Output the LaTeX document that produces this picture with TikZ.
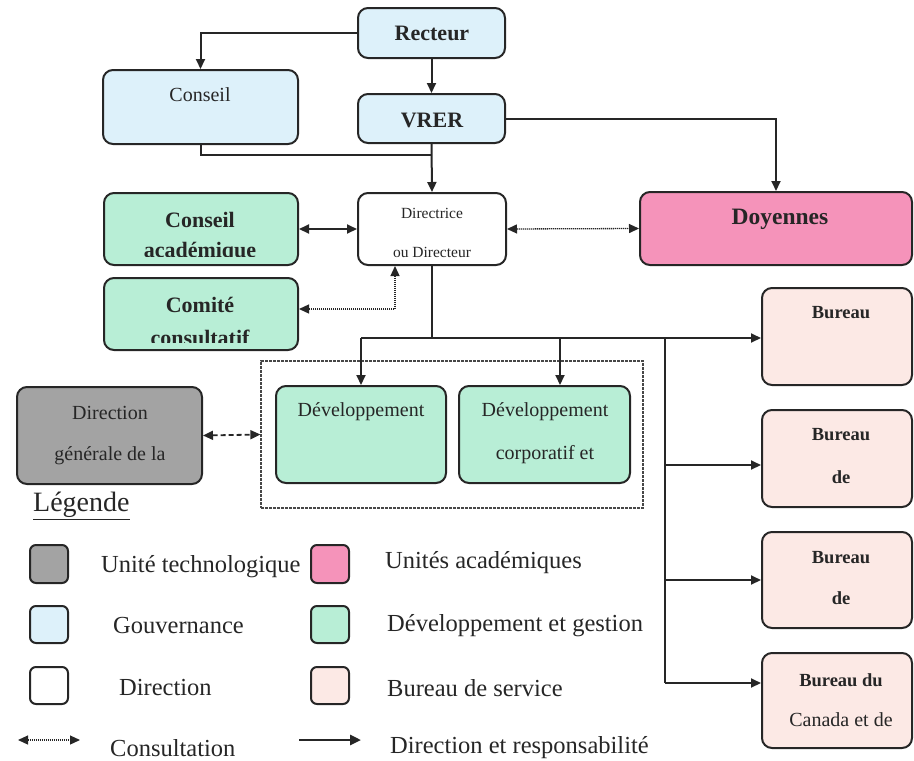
\documentclass[tikz,border=0pt]{standalone}
\usepackage{fontspec}
\setmainfont{Liberation Serif}
\usetikzlibrary{arrows.meta,fit}
\definecolor{gov}{HTML}{DDF1FA}
\definecolor{devg}{HTML}{B8EED6}
\definecolor{acad}{HTML}{F593BA}
\definecolor{tech}{HTML}{A3A3A3}
\definecolor{bur}{HTML}{FCE9E5}
\definecolor{ln}{HTML}{262626}
\tikzset{
  >={Triangle[length=10pt,width=9pt]},
  box/.style={draw=ln, line width=2pt, rounded corners=10pt, inner sep=0pt},
  lbox/.style={draw=ln, line width=2pt, rounded corners=6pt, inner sep=0pt},
  frame/.style={draw=ln!85, line width=1.3pt, dash pattern=on 3pt off 1pt, inner sep=0pt},
  conn/.style={draw=ln, line width=2pt},
  arr/.style={conn, ->},
  arrb/.style={conn, <->},
  consult/.style={draw=ln, line width=1.3pt, dash pattern=on 1.2pt off 0.8pt, <->},
  dashb/.style={draw=ln, line width=1.8pt, dash pattern=on 5pt off 3pt, <->},
  tb/.style={text=ln, inner sep=0pt, font=\fontsize{22}{24}\selectfont\bfseries},
  tr/.style={text=ln, inner sep=0pt, font=\fontsize{20}{22}\selectfont},
  ts/.style={text=ln, inner sep=0pt, font=\fontsize{15.5}{17}\selectfont},
  tbu/.style={text=ln, inner sep=0pt, font=\fontsize{18.5}{20}\selectfont\bfseries},
  tl/.style={text=ln, inner sep=0pt, anchor=west, font=\fontsize{24.5}{26}\selectfont},
}
\begin{document}
\begin{tikzpicture}[x=1pt,y=-1pt]
\useasboundingbox (0,0) rectangle (914,761);
% boxes
\node[box, fill=gov, fit={(358,8)(505,58)}] (rect) {};
\node[box, fill=gov, fit={(103,70)(298,144)}] (cons) {};
\node[box, fill=gov, fit={(358,94)(505,143)}] (vrer) {};
\node[box, fill=white, fit={(358,193)(506,265)}] (dir) {};
\node[box, fill=acad, fit={(640,192)(912,265)}] (doy) {};
\node[box, fill=devg, fit={(104,193)(298,265)}] (ca) {};
\node[box, fill=devg, fit={(104,278)(298,350)}] (cc) {};
\node[box, fill=tech, fit={(17,387)(202,484)}] (dg) {};
\node[frame, fit={(261,361)(643,508)}] (grp) {};
\node[box, fill=devg, fit={(276,386)(446,483)}] (dev1) {};
\node[box, fill=devg, fit={(459,386)(630,483)}] (dev2) {};
\node[box, fill=bur, fit={(762,288)(912,385)}] (b1) {};
\node[box, fill=bur, fit={(762,410)(912,507)}] (b2) {};
\node[box, fill=bur, fit={(762,532)(912,628)}] (b3) {};
\node[box, fill=bur, fit={(762,653)(912,748)}] (b4) {};
% texts
\node[tb] (tRect) at (432,33) {Recteur};
\node[tr] (tCons) at (200,95) {Conseil};
\node[tb] (tVrer) at (432,120) {VRER};
\node[ts] (tDir1) at (432,213) {Directrice};
\node[ts] (tDir2) at (432,252) {ou Directeur};
\node[tb, font=\fontsize{23.5}{25}\selectfont\bfseries] (tDoy) at (780,219) {Doyennes};
\node[tb] (tCa1) at (200,220) {Conseil};
\begin{scope}
\clip (104,240) rectangle (298,256);
\node[tb] (tCa2) at (200,252) {académique};
\end{scope}
\node[tb] (tCc1) at (200,305) {Comité};
\begin{scope}
\clip (104,322) rectangle (298,342);
\node[tb] (tCc2) at (200,338) {consultatif};
\end{scope}
\node[tr] (tDg1) at (110,413) {Direction};
\node[tr] (tDg2) at (110,456) {générale de la};
\node[tr] (tDev1) at (361,412) {Développement};
\node[tr] (tDev2a) at (545,412) {Développement};
\node[tr] (tDev2b) at (545,455) {corporatif et};
\node[tbu] (tB1) at (841,313) {Bureau};
\node[tbu] (tB2a) at (841,435) {Bureau};
\node[tbu] (tB2b) at (841,477) {de};
\node[tbu] (tB3a) at (841,558) {Bureau};
\node[tbu] (tB3b) at (841,598) {de};
\node[tbu] (tB4a) at (841,680) {Bureau du};
\node[tr] (tB4b) at (841,720) {Canada et de};
% connectors
\coordinate (j1) at (432,155);
\draw[arr] (rect.west) -| (cons.north);
\draw[arr] (rect.south) -- (vrer.north);
\draw[conn] (cons.south) |- (j1);
\draw[arr] (vrer.south) -- (dir.north);
\draw[arr] (vrer.east) -| (doy.north);
\draw[arrb] (ca.east) -- (dir.west);
\draw[consult] (dir.east) -- (doy.west);
\coordinate (c1) at (395,309);
\draw[consult] (c1 |- dir.south) |- (cc.east |- c1);
\coordinate (h0) at (361,338);
\coordinate (h1) at (560,338);
\coordinate (v0) at (665,338);
\coordinate (v1) at (665,465);
\coordinate (v2) at (665,580);
\coordinate (v3) at (665,683);
\draw[conn] (dir.south) -- (dir.south |- h0);
\draw[arr] (h0) -- (dev1.north);
\draw[arr] (h1) -- (h1 |- dev2.north);
\draw[arr] (h0) -- (h0 -| b1.west);
\draw[conn] (v0) -- (v3);
\draw[arr] (v1) -- (v1 -| b2.west);
\draw[arr] (v2) -- (v2 -| b3.west);
\draw[arr] (v3) -- (v3 -| b4.west);
\draw[dashb] (dg.east) -- (grp.west);
% legend
\node[text=ln, inner sep=0pt, anchor=west, font=\fontsize{28}{30}\selectfont] (leg) at (33,506) {\underline{Légende}};
\node[lbox, fill=tech, fit={(30,545)(68,583)}] (l1) {};
\node[lbox, fill=gov, fit={(30,606)(68,643)}] (l2) {};
\node[lbox, fill=white, fit={(30,667)(68,704)}] (l3) {};
\node[lbox, fill=acad, fit={(311,545)(349,583)}] (l4) {};
\node[lbox, fill=devg, fit={(311,606)(349,643)}] (l5) {};
\node[lbox, fill=bur, fit={(311,667)(349,704)}] (l6) {};
\node[tl] (lt1) at (101,567) {Unité technologique};
\node[tl] (lt2) at (113,626) {Gouvernance};
\node[tl] (lt3) at (119,688) {Direction};
\node[tl] (lt4) at (385,563) {Unités académiques};
\node[tl] (lt5) at (387,626) {Développement et gestion};
\node[tl] (lt6) at (387,688) {Bureau de service};
\coordinate (la0) at (18,740);
\coordinate (la1) at (80,740);
\coordinate (lb0) at (299,740);
\coordinate (lb1) at (361,740);
\draw[draw=ln, line width=1.2pt, dash pattern=on 1.2pt off 0.8pt, {Triangle[length=10pt,width=9pt]}-{Triangle[length=10pt,width=9pt]}] (la0) -- (la1);
\draw[draw=ln, line width=2.6pt, -{Triangle[length=11pt,width=10pt]}] (lb0) -- (lb1);
\node[tl] (lt7) at (110,748) {Consultation};
\node[tl] (lt8) at (390,748) {Direction et responsabilité};
\end{tikzpicture}
\end{document}
